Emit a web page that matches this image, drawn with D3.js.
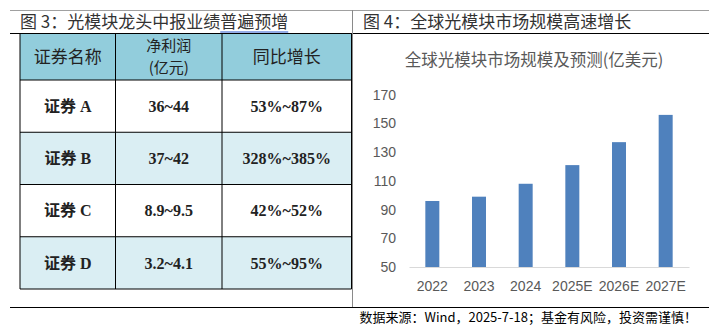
<!DOCTYPE html>
<html><head><meta charset="utf-8">
<script src="https://cdn.jsdelivr.net/npm/d3@7"></script>
<style>
html,body{margin:0;padding:0;background:#fff;}
svg{display:block;}
</style></head>
<body>
<svg id="c" width="709" height="325"></svg>
<script>
// ---------- data ----------
const leftTitle = "图 3：光模块龙头中报业绩";
const leftTitleUnderlined = "普遍预增";
const rightTitle = "图 4：全球光模块市场规模高速增长";
const chartTitle = "全球光模块市场规模及预测(亿美元)";
const tableHeaders = [["证券名称"], ["净利润", "(亿元)"], ["同比增长"]];
const securities = ["证券 A", "证券 B", "证券 C", "证券 D"];
const netProfit = ["36~44", "37~42", "8.9~9.5", "3.2~4.1"];
const yoyGrowth = ["53%~87%", "328%~385%", "42%~52%", "55%~95%"];
const years = ["2022", "2023", "2024", "2025E", "2026E", "2027E"];
const marketSize = [96, 99, 108, 121, 137, 156];
const yTicks = [50, 70, 90, 110, 130, 150, 170];
const footnote = "数据来源：Wind，2025-7-18；基金有风险，投资需谨慎！";

// ---------- drawing ----------
const svg = d3.select("#c");
const CJK = "'Noto Sans CJK SC', 'Noto Sans', sans-serif";

// frame lines
svg.append("line").attr("x1",10).attr("x2",709).attr("y1",10.5).attr("y2",10.5).attr("stroke","#a0a0a0");
svg.append("line").attr("x1",10).attr("x2",709).attr("y1",33.5).attr("y2",33.5).attr("stroke","#000");
svg.append("line").attr("x1",352.5).attr("x2",352.5).attr("y1",10).attr("y2",307).attr("stroke","#8a8a8a");
svg.append("line").attr("x1",10).attr("x2",709).attr("y1",307.5).attr("y2",307.5).attr("stroke","#000");

// titles
const lt = svg.append("text").attr("x",20).attr("y",28).attr("font-family",CJK).attr("font-size",17).attr("fill","#333");
lt.append("tspan").text(leftTitle);
const ut = lt.append("tspan").text(leftTitleUnderlined);
svg.append("text").attr("x",363).attr("y",28).attr("font-family",CJK).attr("font-size",17).attr("fill","#333").text(rightTitle);
{
  const full = lt.node().getComputedTextLength();
  const part = ut.node().getComputedTextLength();
  svg.append("line").attr("x1",20+full-part).attr("x2",20+full).attr("y1",32).attr("y2",32)
    .attr("stroke","#2a5bd0").attr("stroke-width",1.2);
}

// ---------- table ----------
const colEdges = [20, 115.5, 222, 351.5];
const headTop = 33.5, headBottom = 80, tableBottom = 289;
const rowScale = d3.scaleBand().domain(securities).range([headBottom, tableBottom]);
const tbl = svg.append("g");
tbl.append("rect").attr("x",colEdges[0]).attr("y",headTop).attr("width",colEdges[3]-colEdges[0]).attr("height",headBottom-headTop).attr("fill","#92CDDC");
tbl.selectAll("rect.row").data(securities).join("rect").attr("class","row")
  .attr("x",colEdges[0]).attr("y",d=>rowScale(d)).attr("width",colEdges[3]-colEdges[0]).attr("height",rowScale.bandwidth())
  .attr("fill",(d,i)=> i%2===1 ? "#DAEEF3" : "#fff");
// header texts
tableHeaders.forEach((lines,ci)=>{
  const cx = (colEdges[ci]+colEdges[ci+1])/2;
  const cy = (headTop+headBottom)/2;
  const multi = lines.length > 1;
  lines.forEach((ln,li)=>{
    tbl.append("text").attr("text-anchor","middle").attr("font-family",CJK)
      .attr("font-size", multi ? 15 : 17).attr("fill","#222")
      .attr("x",cx).attr("y",cy + (li-(lines.length-1)/2)*22).attr("dy","0.36em").text(ln);
  });
});
// body texts
const cols = [securities, netProfit, yoyGrowth];
cols.forEach((arr,ci)=>{
  const cx = (colEdges[ci]+colEdges[ci+1])/2;
  tbl.selectAll(null).data(arr).join("text")
    .attr("x",cx).attr("y",(d,i)=>rowScale(securities[i])+rowScale.bandwidth()/2).attr("dy","0.36em")
    .attr("text-anchor","middle").attr("font-family","'Liberation Serif', 'Noto Sans CJK SC', serif")
    .attr("font-weight","bold").attr("font-size",16).attr("fill","#222").text(d=>d);
});
const hLines = [headTop, headBottom].concat(securities.map(s=>rowScale(s)+rowScale.bandwidth()));
tbl.selectAll("line.h").data(hLines).join("line").attr("class","h")
  .attr("x1",colEdges[0]).attr("x2",colEdges[3]).attr("y1",d=>d).attr("y2",d=>d).attr("stroke","#000");
tbl.selectAll("line.v").data(colEdges).join("line").attr("class","v")
  .attr("x1",d=>d).attr("x2",d=>d).attr("y1",headTop).attr("y2",tableBottom).attr("stroke","#000");

// ---------- bar chart ----------
svg.append("text").attr("x",534).attr("y",60).attr("dy","0.36em").attr("text-anchor","middle")
  .attr("font-family",CJK).attr("font-size",16.5).attr("fill","#595959").text(chartTitle);

const x = d3.scaleBand().domain(years).range([409, 689]).paddingInner(0.7).paddingOuter(0.35);
const y = d3.scaleLinear().domain([50, 170]).range([267, 94.8]);

svg.append("g").selectAll("rect").data(marketSize).join("rect")
  .attr("x",(d,i)=>x(years[i])).attr("width",x.bandwidth())
  .attr("y",d=>y(d)).attr("height",d=>y(50)-y(d)).attr("fill","#4F81BD");

const yAxis = svg.append("g").attr("transform","translate(400,0)")
  .call(d3.axisLeft(y).tickValues(yTicks).tickSize(0).tickPadding(4));
yAxis.select(".domain").remove();
yAxis.selectAll("text").attr("font-family","'Liberation Sans', Arial, sans-serif").attr("font-size",14).attr("fill","#595959");

const xAxis = svg.append("g").attr("transform","translate(0,267)")
  .call(d3.axisBottom(x).tickSize(0).tickSizeOuter(0).tickPadding(14));
xAxis.select(".domain").attr("stroke","#d9d9d9");
xAxis.selectAll("text").attr("font-family","'Liberation Sans', Arial, sans-serif").attr("font-size",14).attr("fill","#595959");

svg.append("text").attr("x",697).attr("y",317).attr("dy","0.36em").attr("text-anchor","end")
  .attr("font-family",CJK).attr("font-size",13).attr("fill","#000").text(footnote);
</script>
</body></html>
